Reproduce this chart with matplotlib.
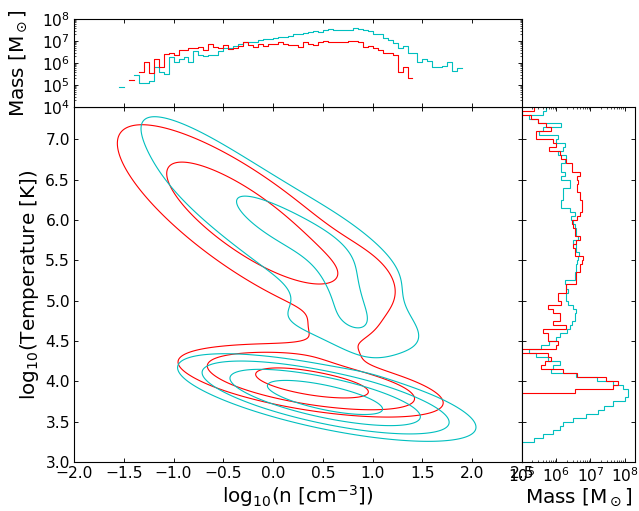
import numpy as np
import matplotlib
matplotlib.use("Agg")
import matplotlib.pyplot as plt
from matplotlib.ticker import LogLocator, NullFormatter

plt.rcParams.update({
    "font.size": 14,
    "axes.labelsize": 18,
    "xtick.direction": "in",
    "ytick.direction": "in",
    "xtick.top": True,
    "ytick.right": True,
    "xtick.major.size": 4,
    "ytick.major.size": 4,
    "xtick.minor.size": 2,
    "ytick.minor.size": 2,
    "axes.linewidth": 1.0,
})

# density histogram (top), log10 mass per 0.05 dex bin of log n
n_edges_cyan = np.round(np.arange(-1.55, 1.9001, 0.05), 2)
mass_n_cyan = [4.92, np.nan, np.nan, 5.45, 5.1, 5.1, 5.17, 5.83, 5.58, 5.48,
               6.29, 6.06, 6.2, 6.29, 6.06, 6.55, 6.36, 6.3, 6.36, 6.36,
               6.55, 6.67, 6.7, 6.77, 6.85, 6.94, 6.94, 6.97, 7.03, 7.09,
               7.09, 7.15, 7.2, 7.2, 7.24, 7.32, 7.32, 7.38, 7.42, 7.45,
               7.42, 7.5, 7.55, 7.5, 7.5, 7.52, 7.52, 7.58, 7.55, 7.5,
               7.46, 7.3, 7.3, 7.12, 7.05, 6.9, 6.7, 6.79, 6.44, 6.47,
               6.06, 6.17, 6.1, 5.8, 5.8, 5.86, 6.06, 5.65, 5.79]
n_edges_red = np.round(np.arange(-1.45, 1.4001, 0.05), 2)
mass_n_red = [5.21, np.nan, 5.58, 6.06, 5.53, 6.2, 5.83, 6.39, 6.47, 6.36,
              6.59, 6.6, 6.67, 6.67, 6.74, 6.59, 6.85, 6.71, 6.7, 6.82,
              6.62, 6.67, 6.79, 6.94, 6.82, 6.74, 6.85, 6.79, 6.85, 6.85,
              6.94, 6.85, 6.82, 6.82, 6.71, 6.94, 6.85, 6.82, 6.97, 6.98,
              6.94, 6.97, 6.94, 6.95, 7.0, 7.0, 6.94, 6.74, 6.78, 6.7,
              6.6, 6.47, 6.47, 6.36, 5.58, 5.8, 5.33]

# temperature histogram (right), log10 mass per 0.05 dex bin of log T, from top down
t_edges_cyan = np.round(np.arange(7.40, 3.1999, -0.05), 2)
mass_t_cyan = [5.71, 5.6, 5.2, 5.46, 6.15, 5.6, 5.5, 6.05, 6.0, 6.25,
               6.2, 6.05, 6.3, 6.25, 6.15, 6.15, 6.25, 6.15, 6.4, 6.4,
               6.2, 6.2, 6.2, 6.15, 6.15, 6.4, 6.54, 6.44, 6.49, 6.54,
               6.59, 6.57, 6.64, 6.49, 6.59, 6.59, 6.67, 6.64, 6.62, 6.59,
               6.59, 6.54, 6.54, 6.25, 6.29, 6.34, 6.29, 6.29, 6.34, 6.49,
               6.57, 6.54, 6.54, 6.47, 6.39, 6.31, 6.1, 6.0, 5.8, 5.56,
               5.2, 5.41, 5.75, 6.1, 5.9, 5.85, 6.59, 7.18, 7.67, 7.96,
               8.1, 8.1, 8.0, 7.67, 7.39, 7.22, 6.88, 6.49, 6.2, 6.1,
               5.9, 5.6, 5.36, 3.0]
t_edges_red = np.round(np.arange(7.40, 3.7999, -0.05), 2)
mass_t_red = [5.36, 5.0, 5.26, 5.46, 5.7, 5.85, 5.41, 5.41, 5.9, 6.0,
              5.8, 6.1, 6.15, 6.3, 6.45, 6.45, 6.69, 6.6, 6.64, 6.6,
              6.6, 6.69, 6.69, 6.74, 6.74, 6.74, 6.69, 6.6, 6.47, 6.49,
              6.54, 6.54, 6.69, 6.59, 6.49, 6.54, 6.54, 6.78, 6.74, 6.69,
              6.69, 6.59, 6.59, 6.59, 6.29, 6.29, 6.05, 6.05, 6.15, 5.75,
              5.9, 6.1, 6.1, 5.9, 6.29, 5.6, 5.75, 5.75, 6.05, 6.0,
              3.0, 5.75, 5.85, 5.66, 5.56, 6.2, 6.6, 7.45, 7.8, 7.65,
              6.54, 3.0]

# mass-weighted phase density, described as gaussian blobs:
# (log n centre, log T centre, angle deg, sigma major, sigma minor, amplitude)
red_blobs = [
    (0.40, 3.97, -11, 0.56, 0.14, 1.0),
    (-0.28, 5.98, -42.6, 0.89, 0.29, 0.35),
    (0.10, 4.30, 0, 0.50, 0.12, 0.13),
    (0.60, 4.62, 0, 0.28, 0.16, 0.06),
    (0.90, 5.35, -40, 0.40, 0.25, 0.06),
]
red_levels = [0.06, 0.18, 0.6]

cyan_blobs = [
    (0.52, 3.80, -15, 0.60, 0.15, 1.0),
    (-0.05, 5.97, -46, 1.55, 0.36, 0.075),
    (0.32, 5.86, -30, 0.72, 0.22, 0.06),
    (0.75, 5.00, -70, 0.45, 0.20, 0.06),
    (0.47, 4.71, -10, 0.62, 0.20, 0.032),
]
cyan_levels = [0.039, 0.105, 0.26, 0.61]


def density(X, Y, blobs):
    F = np.zeros_like(X)
    for x0, y0, ang, sa, sb, amp in blobs:
        t = np.deg2rad(ang)
        u = (X - x0) * np.cos(t) + (Y - y0) * np.sin(t)
        v = -(X - x0) * np.sin(t) + (Y - y0) * np.cos(t)
        F += amp * np.exp(-0.5 * (u / sa) ** 2 - 0.5 * (v / sb) ** 2)
    return F


gx = np.linspace(-2.0, 2.5, 400)
gy = np.linspace(3.0, 7.4, 400)
X, Y = np.meshgrid(gx, gy)

fig = plt.figure(figsize=(639 / 80, 511 / 80), dpi=80)
ax = fig.add_axes([0.1158, 0.0959, 0.7011, 0.6947])
ax_top = fig.add_axes([0.1158, 0.7906, 0.7011, 0.1722])
ax_right = fig.add_axes([0.8169, 0.0959, 0.1768, 0.6947])

ax.contour(X, Y, density(X, Y, red_blobs), levels=red_levels, colors="r", linewidths=1.0)
ax.contour(X, Y, density(X, Y, cyan_blobs), levels=cyan_levels, colors="c", linewidths=1.0)
ax.set_xlim(-2.0, 2.5)
ax.set_ylim(3.0, 7.4)
ax.set_xticks(np.arange(-2.0, 2.51, 0.5))
ax.set_yticks(np.arange(3.0, 7.01, 0.5))
ax.set_xlabel("log$_{10}$(n [cm$^{-3}$])", labelpad=2)
ax.set_ylabel("log$_{10}$(Temperature [K])")

# top histogram
for edges, vals, col in [(n_edges_cyan, mass_n_cyan, "c"), (n_edges_red, mass_n_red, "r")]:
    yv = 10 ** np.array(vals + [vals[-1]])
    ax_top.plot(edges, yv, drawstyle="steps-post", color=col, lw=1.0)
ax_top.set_yscale("log")
ax_top.set_ylim(1e4, 1e8)
ax_top.set_xlim(-2.0, 2.5)
ax_top.set_xticks(np.arange(-2.0, 2.51, 0.5))
ax_top.yaxis.set_major_locator(LogLocator(base=10, numticks=10))
ax_top.yaxis.set_minor_locator(LogLocator(base=10, subs=np.arange(2, 10), numticks=10))
ax_top.yaxis.set_minor_formatter(NullFormatter())
ax_top.tick_params(axis="x", labelbottom=False)
ax_top.set_ylabel(r"Mass [M$_\odot$]", labelpad=12)

# right histogram
for edges, vals, col in [(t_edges_cyan, mass_t_cyan, "c"), (t_edges_red, mass_t_red, "r")]:
    ax_right.stairs(10 ** np.array(vals[::-1]), edges[::-1], orientation="horizontal",
                    baseline=None, color=col, lw=1.0)
ax_right.set_xscale("log")
ax_right.set_xlim(1e5, 2e8)
ax_right.set_ylim(3.0, 7.4)
ax_right.xaxis.set_major_locator(LogLocator(base=10, numticks=10))
ax_right.xaxis.set_minor_locator(LogLocator(base=10, subs=np.arange(2, 10), numticks=10))
ax_right.xaxis.set_minor_formatter(NullFormatter())
ax_right.set_yticks(np.arange(3.0, 7.01, 0.5))
ax_right.tick_params(axis="y", labelleft=False)
ax_right.set_xlabel(r"Mass [M$_\odot$]", labelpad=2)

fig.savefig("out.png", dpi=80)
